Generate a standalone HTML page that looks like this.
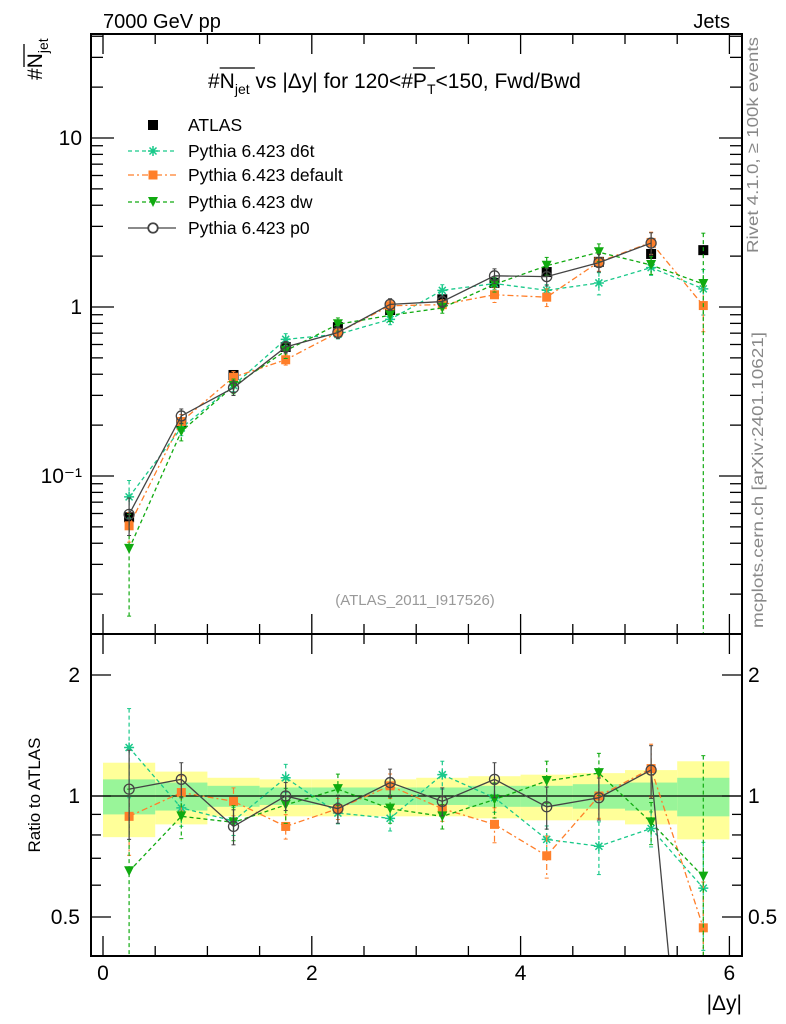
<!DOCTYPE html>
<html><head><meta charset="utf-8"><style>
html,body{margin:0;padding:0;background:#fff;overflow:hidden;width:786px;height:1024px;}
svg{display:block;font-family:"Liberation Sans",sans-serif;}
</style></head><body>
<svg id="chart" width="786" height="1024" viewBox="0 0 786 1024" xmlns="http://www.w3.org/2000/svg">
<text x="103" y="28" font-size="20">7000 GeV pp</text>
<text x="730" y="28" font-size="20" text-anchor="end">Jets</text>
<text id="title" x="208" y="88" font-size="21">#N<tspan font-size="14" dy="6">jet</tspan><tspan dy="-6"> vs |Δy| for 120&lt;#P</tspan><tspan font-size="14" dy="6">T</tspan><tspan dy="-6">&lt;150, Fwd/Bwd</tspan></text>
<line id="ovN" x1="225" y1="68" x2="255" y2="68" stroke="#000" stroke-width="1.3"/>
<line id="ovP" x1="370" y1="68" x2="382" y2="68" stroke="#000" stroke-width="1.3"/>
<text transform="translate(42,80) rotate(-90)" font-size="21">#N<tspan font-size="14" dy="6">jet</tspan></text>
<line x1="24" y1="44" x2="24" y2="67" stroke="#000" stroke-width="1.3"/>
<text transform="translate(758,145) rotate(-90)" font-size="16" fill="#888" text-anchor="middle" textLength="216" lengthAdjust="spacingAndGlyphs">Rivet 4.1.0, ≥ 100k events</text>
<text transform="translate(763,480) rotate(-90)" font-size="16" fill="#888" text-anchor="middle" textLength="296" lengthAdjust="spacingAndGlyphs">mcplots.cern.ch [arXiv:2401.10621]</text>
<text x="415" y="605" font-size="15" fill="#999" text-anchor="middle">(ATLAS_2011_I917526)</text>
<text transform="translate(40,795) rotate(-90)" font-size="17" text-anchor="middle">Ratio to ATLAS</text>
<text x="742" y="1010" font-size="21" text-anchor="end">|Δy|</text>
<g id="plot"></g>
</svg>
<script>
const binEdges=[0,0.5,1,1.5,2,2.5,3,3.5,4,4.5,5,5.5,6];
const atlas=[0.057,0.206,0.396,0.58,0.76,0.96,1.11,1.39,1.61,1.85,2.06,2.17];
const atlasErr=[0.006,0.015,0.025,0.03,0.035,0.04,0.05,0.06,0.08,0.1,0.12,0.15];
const ratioD6t=[1.32,0.934,0.867,1.11,0.907,0.88,1.13,0.99,0.78,0.75,0.83,0.59];
const ratioDefault=[0.89,1.02,0.97,0.84,0.93,1.06,0.93,0.85,0.71,1.0,1.17,0.47];
const ratioDw=[0.65,0.89,0.86,0.95,1.04,0.93,0.89,0.98,1.09,1.14,0.86,0.63];
const ratioP0=[1.04,1.10,0.84,1.0,0.93,1.08,0.97,1.10,0.94,0.99,1.16,0.0];
const errD6t=[0.25,0.1,0.08,0.08,0.06,0.07,0.08,0.08,0.08,0.15,0.1,0.3];
const errDefault=[0.2,0.1,0.08,0.07,0.06,0.07,0.07,0.1,0.12,0.12,0.15,0.3];
const errDw=[0.6,0.12,0.1,0.1,0.09,0.08,0.07,0.1,0.12,0.12,0.12,1.0];
const errP0=[0.25,0.1,0.1,0.08,0.08,0.08,0.08,0.1,0.12,0.12,0.15,0];
const yellowHi=[1.21,1.15,1.11,1.10,1.10,1.10,1.11,1.12,1.13,1.14,1.16,1.22];
const yellowLo=[0.79,0.85,0.89,0.89,0.89,0.89,0.89,0.88,0.87,0.87,0.85,0.78];
const greenHi=[1.10,1.08,1.06,1.05,1.05,1.05,1.05,1.06,1.06,1.07,1.08,1.11];
const greenLo=[0.90,0.92,0.94,0.95,0.95,0.95,0.95,0.94,0.94,0.93,0.92,0.89];
const xTicks=[0,2,4,6];
const mainTicks=[0.1,1,10];
const mainTickLabels=["10\u207B\u00B9","1","10"];
const ratioTicks=[0.5,1,2];
const ratioTickLabels=["0.5","1","2"];

const NS="http://www.w3.org/2000/svg";
const g=document.getElementById('plot');
const L=91,R=742,T=34,M=634,B=956;
const X=v=>103+v*104.4;
const Y=v=>307-169*Math.log10(v);
const YR=v=>796-402*Math.log10(Math.max(v,0.05));
function el(tag,attrs,parent){const e=document.createElementNS(NS,tag);for(const k in attrs)e.setAttribute(k,attrs[k]);(parent||g).appendChild(e);return e;}
const centers=binEdges.slice(0,-1).map((e,i)=>(e+binEdges[i+1])/2);

try{
  const tt=document.getElementById('title');
  const full=tt.textContent;
  const nI=full.indexOf('N'), pI=full.indexOf('P');
  const x0=208;
  const nS=tt.getSubStringLength(0,nI), nW=tt.getSubStringLength(nI,1);
  const pS=tt.getSubStringLength(0,pI), pW=tt.getSubStringLength(pI,1);
  const a=document.getElementById('ovN'); a.setAttribute('x1',x0+nS); a.setAttribute('x2',x0+nS+nW+20);
  const b=document.getElementById('ovP'); b.setAttribute('x1',x0+pS); b.setAttribute('x2',x0+pS+pW+8);
}catch(e){}

const defs=el('defs',{});
const c1=el('clipPath',{id:'cm'},defs);el('rect',{x:L,y:T,width:R-L,height:M-T},c1);
const c2=el('clipPath',{id:'cr'},defs);el('rect',{x:L,y:M,width:R-L,height:B-M},c2);
const gm=el('g',{'clip-path':'url(#cm)'});
const gr=el('g',{'clip-path':'url(#cr)'});

for(let i=0;i<yellowHi.length;i++){
  const b=el('rect',{x:X(binEdges[i]),y:YR(yellowHi[i]),width:X(binEdges[i+1])-X(binEdges[i]),height:YR(yellowLo[i])-YR(yellowHi[i]),fill:'#ffff99'},gr);
  
  
}
for(let i=0;i<greenHi.length;i++){
  const b=el('rect',{x:X(binEdges[i]),y:YR(greenHi[i]),width:X(binEdges[i+1])-X(binEdges[i]),height:YR(greenLo[i])-YR(greenHi[i]),fill:'#99f599'},gr);
  
  
}
el('line',{x1:L,x2:R,y1:YR(1),y2:YR(1),stroke:'#000','stroke-width':1.3},gr);

function marker(parent,type,x,y,color){
  let m;
  if(type==='square') m=el('rect',{x:x-5,y:y-5,width:10,height:10,fill:color},parent);
  else if(type==='sq2') m=el('rect',{x:x-4.5,y:y-4.5,width:9,height:9,fill:color},parent);
  else if(type==='tri') m=el('path',{d:`M${x-5},${y-5}L${x+5},${y-5}L${x},${y+5}Z`,fill:color},parent);
  else if(type==='circ') m=el('circle',{cx:x,cy:y,r:5,fill:'none',stroke:color,'stroke-width':1.3},parent);
  else if(type==='star'){m=el('path',{d:`M${x-5},${y}H${x+5}M${x},${y-5}V${y+5}M${x-3.5},${y-3.5}L${x+3.5},${y+3.5}M${x-3.5},${y+3.5}L${x+3.5},${y-3.5}`,stroke:color,'stroke-width':1.5},parent);}
  return m;
}
const series=[
 {name:'d6t',r:ratioD6t,e:errD6t,color:'#19c98a',dash:'4,3',m:'star'},
 {name:'default',r:ratioDefault,e:errDefault,color:'#ff7f2a',dash:'6,3,2,3',m:'sq2'},
 {name:'dw',r:ratioDw,e:errDw,color:'#10aa10',dash:'4,3',m:'tri'},
 {name:'p0',r:ratioP0,e:errP0,color:'#444',dash:'',m:'circ'}
];
function drawSeries(s,parent,yf,main){
  const pts=[];
  s.r.forEach((r,i)=>{
    if(main && r<=0) return;
    const v=main?atlas[i]*r:r;
    pts.push([X(centers[i]),yf(v)]);
  });
  if(!main && s.r[s.r.length-1]<=0) pts.push([X(centers[11])-8,yf(0.05)]);
  const p=el('polyline',{points:pts.map(p=>p.join(',')).join(' '),fill:'none',stroke:s.color,'stroke-width':1.3,'stroke-dasharray':s.dash},parent);
  
  
  s.r.forEach((r,i)=>{
    if(r<=0) return;
    const v=main?atlas[i]*r:r;
    const hi=v*(1+s.e[i]), lo=Math.max(v*(1-s.e[i]),1e-4);
    const x=X(centers[i]);
    const eb=el('line',{x1:x,x2:x,y1:yf(hi),y2:yf(lo),stroke:s.color,'stroke-width':1.2,'stroke-dasharray':s.dash},parent);
    
    
    el('line',{x1:x-2,x2:x+2,y1:yf(hi),y2:yf(hi),stroke:s.color},parent);
    el('line',{x1:x-2,x2:x+2,y1:yf(lo),y2:yf(lo),stroke:s.color},parent);
    const m=marker(parent,s.m,x,yf(v),s.color);
    
    
  });
}
atlas.forEach((v,i)=>{
  const x=X(centers[i]);
  el('line',{x1:x,x2:x,y1:Y(v+atlasErr[i]),y2:Y(v-atlasErr[i]),stroke:'#000'},gm);
  const m=marker(gm,'square',x,Y(v),'#000');
  
  
});
series.forEach(s=>{drawSeries(s,gm,Y,true);drawSeries(s,gr,YR,false);});

el('rect',{x:L,y:T,width:R-L,height:B-T,fill:'none',stroke:'#000','stroke-width':2});
el('line',{x1:L,x2:R,y1:M,y2:M,stroke:'#000','stroke-width':2});
for(let v=0;v<=6.01;v+=0.5){
  const x=X(v),maj=Math.abs(v/2-Math.round(v/2))<1e-6,len=maj?20:10;
  [[T,1],[M,-1],[M,1],[B,-1]].forEach(([y0,d])=>el('line',{x1:x,x2:x,y1:y0,y2:y0+d*len,stroke:'#000','stroke-width':1.3}));
}
xTicks.forEach(v=>{const t=el('text',{x:X(v),y:980,'font-size':21,'text-anchor':'middle'});t.textContent=v;

});
for(let d=-2;d<=1;d++)for(let k=1;k<=9;k++){
  const v=k*Math.pow(10,d),y=Y(v);if(y<T||y>M)continue;
  const len=k===1?23:12;
  el('line',{x1:L,x2:L+len,y1:y,y2:y,stroke:'#000','stroke-width':1.3});
  el('line',{x1:R,x2:R-len,y1:y,y2:y,stroke:'#000','stroke-width':1.3});
}
mainTicks.forEach((v,i)=>{const t=el('text',{x:82,y:Y(v)+7,'font-size':21,'text-anchor':'end'});t.textContent=mainTickLabels[i];

});
for(let d=-1;d<=0;d++)for(let k=1;k<=9;k++){
  const v=k*Math.pow(10,d),y=YR(v);if(y<M||y>B)continue;
  const len=(k===1||k===5&&d===-1||k===2&&d===0)?20:10;
  el('line',{x1:L,x2:L+len,y1:y,y2:y,stroke:'#000','stroke-width':1.3});
  el('line',{x1:R,x2:R-len,y1:y,y2:y,stroke:'#000','stroke-width':1.3});
}
ratioTicks.forEach((v,i)=>{
  const t=el('text',{x:80,y:YR(v)+7,'font-size':21,'text-anchor':'end'});t.textContent=ratioTickLabels[i];
  
  
  const t2=el('text',{x:748,y:YR(v)+7,'font-size':21});t2.textContent=ratioTickLabels[i];
  
  
});
const legNames=['ATLAS','Pythia 6.423 d6t','Pythia 6.423 default','Pythia 6.423 dw','Pythia 6.423 p0'];
const legY=[125,151,175,202,228];
legNames.forEach((n,i)=>{
  const lg=el('g',{});
  
  
  const y=legY[i];
  if(i===0) marker(lg,'square',153,y,'#000');
  else{const s=series[i-1];
    el('line',{x1:128,x2:176,y1:y,y2:y,stroke:s.color,'stroke-width':1.3,'stroke-dasharray':s.dash},lg);
    marker(lg,s.m,153,y,s.color);
    if(s.m==='circ') el('circle',{cx:153,cy:y,r:4.5,fill:'#fff',stroke:s.color,'stroke-width':1.3},lg);}
  const t=el('text',{x:188,y:y+6,'font-size':17.5},lg);t.textContent=n;
});
</script>
</body></html>
